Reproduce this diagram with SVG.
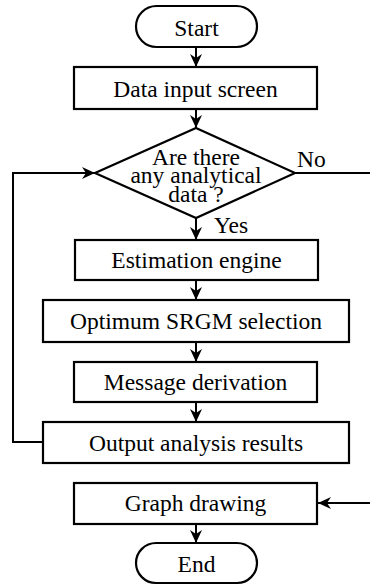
<svg xmlns="http://www.w3.org/2000/svg" width="370" height="586" viewBox="0 0 370 586">
<style>
.box{fill:#fff;stroke:#000;stroke-width:2.2}
.ln{fill:none;stroke:#000;stroke-width:2}
text{font-family:"Liberation Serif","Times New Roman",serif;font-size:23.5px;fill:#000;text-anchor:middle}
.lbl{text-anchor:start}
</style>
<defs>
<marker id="ah" markerUnits="userSpaceOnUse" markerWidth="16" markerHeight="14" viewBox="-14 -7 16 14" refX="0" refY="0" orient="auto">
<path d="M0,0 L-13,-6 L-9,0 L-13,6 Z" fill="#000"/>
</marker>
</defs>
<g id="connectors">
<line class="ln" x1="196" y1="47" x2="196" y2="67" marker-end="url(#ah)"/>
<line class="ln" x1="196" y1="109" x2="196" y2="128" marker-end="url(#ah)"/>
<line class="ln" x1="196" y1="218" x2="196" y2="240" marker-end="url(#ah)"/>
<line class="ln" x1="196" y1="280" x2="196" y2="300" marker-end="url(#ah)"/>
<line class="ln" x1="196" y1="342" x2="196" y2="362" marker-end="url(#ah)"/>
<line class="ln" x1="196" y1="402" x2="196" y2="422" marker-end="url(#ah)"/>
<line class="ln" x1="196" y1="524" x2="196" y2="543" marker-end="url(#ah)"/>
<path class="ln" d="M43,442 H13 V173 H95" marker-end="url(#ah)"/>
<line class="ln" x1="295" y1="173" x2="370" y2="173"/>
<line class="ln" x1="370" y1="503" x2="318" y2="503" marker-end="url(#ah)"/>
<text class="lbl" x="297" y="167">No</text>
<text class="lbl" x="214" y="233">Yes</text>
</g>
<g id="start">
<rect class="box" x="136" y="6" width="121" height="41" rx="20.5"/>
<text x="196.5" y="36">Start</text>
</g>
<g id="data-input">
<rect class="box" x="74" y="67" width="243" height="42"/>
<text x="195.5" y="96.5">Data input screen</text>
</g>
<g id="decision">
<polygon class="box" points="196,128 295,173 196,218 95,173"/>
<text x="196" y="165">Are there</text>
<text x="196" y="183">any analytical</text>
<text x="196" y="201.5">data ?</text>
</g>
<g id="estimation">
<rect class="box" x="75" y="240" width="243" height="40"/>
<text x="196.5" y="268">Estimation engine</text>
</g>
<g id="srgm">
<rect class="box" x="43" y="300" width="306" height="42"/>
<text x="196" y="328.5">Optimum SRGM selection</text>
</g>
<g id="message">
<rect class="box" x="74" y="362" width="243" height="40"/>
<text x="195.5" y="390">Message derivation</text>
</g>
<g id="output">
<rect class="box" x="43" y="422" width="306" height="41"/>
<text x="196" y="450.5">Output analysis results</text>
</g>
<g id="graph">
<rect class="box" x="74" y="483" width="243" height="41"/>
<text x="195.5" y="511">Graph drawing</text>
</g>
<g id="end">
<rect class="box" x="136" y="543" width="121" height="40" rx="20"/>
<text x="196.5" y="572">End</text>
</g>
</svg>
